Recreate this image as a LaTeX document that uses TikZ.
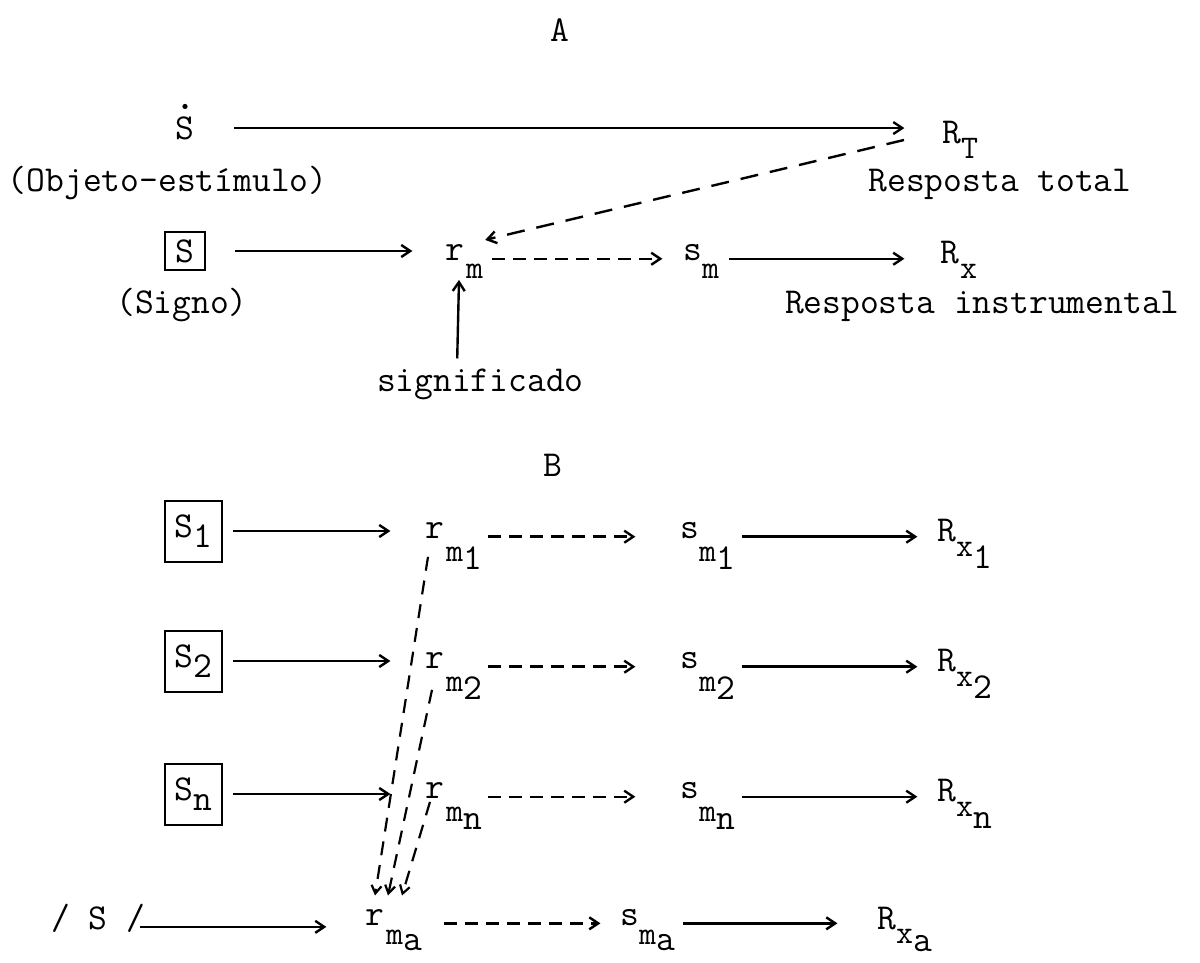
\documentclass[tikz,border=0pt]{standalone}
\usepackage{fontspec}
\newcommand{\mytw}{\ttfamily\addfontfeature{FakeBold=1.2}\fontsize{36.5}{42}\selectfont}
\newcommand{\mysub}{\ttfamily\addfontfeature{FakeBold=1.2}\fontsize{33}{37}\selectfont}
\newcommand{\lowsub}[2][14pt]{\raisebox{-#1}{\mysub #2}}
\usetikzlibrary{arrows.meta,calc}
\begin{document}
\begin{tikzpicture}[x=1pt,y=-1pt,
  tw/.style={font=\mytw, inner sep=0pt, outer sep=0pt},
  sbox/.style={tw, draw, line width=2pt, minimum width=57pt, minimum height=61pt},
  arr/.style={-{Straight Barb[length=9pt,width=12pt]}, line width=2.4pt},
  darr/.style={arr, dash pattern=on 13pt off 8pt},
  ldarr/.style={arr, dash pattern=on 18pt off 12pt},
  vdarr/.style={-{Straight Barb[length=8pt,width=10pt]}, line width=2.2pt, dash pattern=on 14pt off 10pt},
]
\useasboundingbox (0,0) rectangle (1200,963);

% ---------- A ----------
\node[tw] (A) at (560,30) {A};
\node[tw, anchor=base] (Sd) at (185,139.2) {S};
\fill ([yshift=10pt]Sd.north) circle (2.6pt);
\node[tw, anchor=base west] (RT) at (942.4,143.2) {R\lowsub[15.4pt]{T}};
\node[tw, anchor=base west] (obj) at (8,191.2) {(Objeto-estímulo)};
\node[tw, anchor=base] (rtot) at (1000,191.2) {Resposta total};

\node[sbox, minimum width=40pt, minimum height=38pt] (Sb) at (185,251) {S};
\node[tw, anchor=base] (sig) at (182,313) {(Signo)};
\node[tw, anchor=base west] (rm) at (445.4,260.9) {r\kern2pt\lowsub[18pt]{m}};
\node[tw, anchor=base west] (sm) at (683.4,260.9) {s\lowsub[18pt]{m}};
\node[tw, anchor=base west] (Rx) at (940.4,263.2) {R\kern1pt\lowsub[15pt]{x}};
\node[tw, anchor=base west] (rins) at (785,313) {Resposta instrumental};
\node[tw, anchor=base west] (signif) at (377,391) {significado};

\draw[arr, shorten <=40pt, shorten >=38pt] (Sd.east) -- (Sd.east -| RT.west);
\draw[arr, shorten <=30pt, shorten >=33pt] (Sb.east) -- (Sb.east -| rm.west);
\draw[darr, shorten <=9pt, shorten >=21pt] (rm.mid east) -- (rm.mid east -| sm.west);
\draw[arr, shorten <=10pt, shorten >=36pt] (sm.mid east) -- (sm.mid east -| Rx.west);
\draw[ldarr] ([shift={(-38.4,-3.2)}]RT.base west) -- ([shift={(2,-21)}]rm.base east);
\draw[arr, shorten <=10pt] ([xshift=-23.4pt]signif.north) -- ([shift={(13.6,19)}]rm.base west);

% ---------- B ----------
\node[tw] (B) at (553,465) {B};

\node[sbox] (S1) at (193.5,531) {S\raisebox{-10pt}{1}};
\node[tw, anchor=base west] (rm1) at (425.4,538.85) {r\kern2pt\lowsub[23pt]{m\raisebox{-8pt}{\mytw 1}}};
\node[tw, anchor=base west] (sm1) at (680.4,538.85) {s\lowsub[23pt]{m\raisebox{-8pt}{\mytw 1}}};
\node[tw, anchor=base west] (Rx1) at (937.4,541.15) {R\lowsub[15pt]{x\raisebox{-12pt}{\mytw 1}}};

\node[sbox] (S2) at (193.5,661) {S\raisebox{-10pt}{2}};
\node[tw, anchor=base west] (rm2) at (425.4,668.85) {r\kern2pt\lowsub[23pt]{m\raisebox{-8pt}{\mytw 2}}};
\node[tw, anchor=base west] (sm2) at (680.4,668.85) {s\lowsub[23pt]{m\raisebox{-8pt}{\mytw 2}}};
\node[tw, anchor=base west] (Rx2) at (937.4,671.15) {R\lowsub[15pt]{x\raisebox{-12pt}{\mytw 2}}};

\node[sbox] (Sn) at (193.5,794) {S\raisebox{-10pt}{n}};
\node[tw, anchor=base west] (rmn) at (425.4,798.85) {r\kern2pt\lowsub[23pt]{m\raisebox{-8pt}{\mytw n}}};
\node[tw, anchor=base west] (smn) at (680.4,798.85) {s\lowsub[23pt]{m\raisebox{-8pt}{\mytw n}}};
\node[tw, anchor=base west] (Rxn) at (937.4,801.15) {R\lowsub[15pt]{x\raisebox{-12pt}{\mytw n}}};

\node[tw, anchor=base west] (Sa) at (51.4,929) {/ S /};
\node[tw, anchor=base west] (rma) at (365.4,925.5) {r\kern2pt\lowsub[19pt]{m\raisebox{-6pt}{\mytw a}}};
\node[tw, anchor=base west] (sma) at (620.4,925.5) {s\lowsub[19pt]{m\raisebox{-6pt}{\mytw a}}};
\node[tw, anchor=base west] (Rxa) at (877.4,929) {R\lowsub[14pt]{x\raisebox{-8pt}{\mytw a}}};

\foreach \s/\r/\m/\x in {S1/rm1/sm1/Rx1, S2/rm2/sm2/Rx2, Sn/rmn/smn/Rxn}{
  \draw[arr, shorten <=11pt, shorten >=35pt] (\s.east) -- (\s.east -| \r.west);
  \draw[darr, shorten <=6pt, shorten >=45pt] (\r.mid east) -- (\r.mid east -| \m.west);
  \draw[arr, shorten <=7pt, shorten >=20pt] (\m.mid east) -- (\m.mid east -| \x.west);
}
\draw[arr, shorten <=-5pt, shorten >=39pt] (Sa.mid east) -- (Sa.mid east -| rma.west);
\draw[darr, shorten <=22pt, shorten >=20pt] (rma.mid east) -- (rma.mid east -| sma.west);
\draw[arr, shorten <=8pt, shorten >=40pt] (sma.mid east) -- (sma.mid east -| Rxa.west);

\draw[vdarr] ([shift={(2.6,18)}]rm1.base west) -- ([shift={(9.6,-30)}]rma.base west);
\draw[vdarr] ([shift={(6.6,21)}]rm2.base west) -- ([shift={(22.6,-30)}]rma.base west);
\draw[vdarr] ([shift={(4.6,3)}]rmn.base west) -- ([shift={(36.6,-30)}]rma.base west);
\end{tikzpicture}
\end{document}
